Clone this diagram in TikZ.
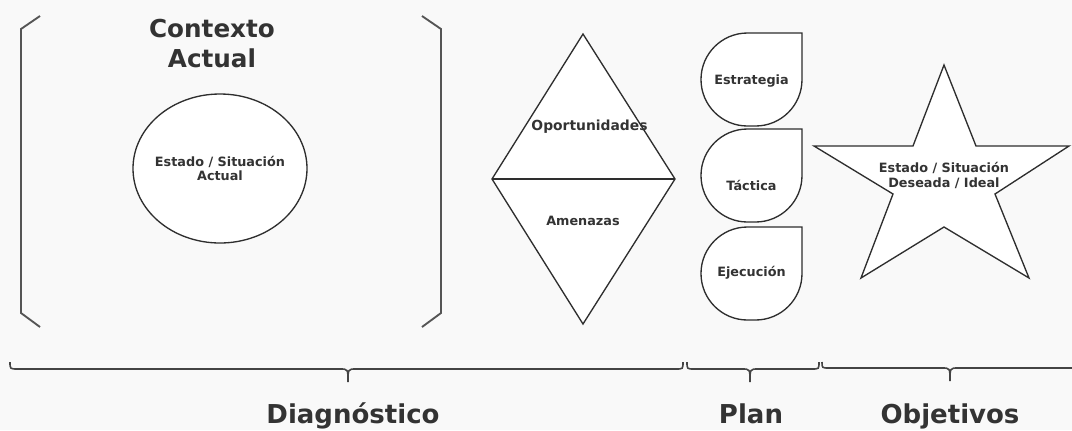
\documentclass[tikz,border=0pt]{standalone}
\usepackage{fontspec}
\setmainfont{DejaVu Sans}
\usetikzlibrary{shapes.geometric}
\definecolor{ink}{HTML}{333333}
\definecolor{edge}{HTML}{2E2E2E}
\definecolor{brk}{HTML}{555555}
\definecolor{brc}{HTML}{444444}
\definecolor{bg}{HTML}{F9F9F9}
\tikzset{
  shapeline/.style={draw=edge, line width=1pt, fill=white, line join=miter},
  bracketline/.style={draw=brk, line width=1.4pt},
  braceline/.style={draw=brc, line width=1.2pt},
  smalltxt/.style={text=ink, inner sep=0pt, align=center, font=\bfseries\fontsize{9.6pt}{10.5pt}\selectfont},
  titletxt/.style={text=ink, inner sep=0pt, align=center, font=\bfseries\fontsize{18.5pt}{22.5pt}\selectfont},
  bottomtxt/.style={text=ink, inner sep=0pt, font=\bfseries\fontsize{19.5pt}{22pt}\selectfont}
}
\begin{document}
\begin{tikzpicture}[x=0.75pt, y=-0.75pt]
\fill[bg] (0,0) rectangle (1072,430);
\useasboundingbox (0,0) rectangle (1072,430);

% brackets
\draw[bracketline] (40,16) -- (21,29) -- (21,313) -- (40,327);
\draw[bracketline] (422,16) -- (441,29) -- (441,313) -- (422,327);

\node[titletxt] (ctx) at (212,43.5) {Contexto\\Actual};

% ellipse
\node[shapeline, ellipse, minimum width=130.5pt, minimum height=111.75pt, inner sep=0pt] (cur) at (220,168.5) {};
\node[smalltxt] (curtxt) at (220,168) {Estado / Situación\\Actual};

% diamond
\draw[shapeline] (583,34) -- (675,179) -- (583,324) -- (492,179) -- cycle;
\draw[shapeline] (492,179) -- (675,179);
\node[smalltxt, anchor=base, font=\bfseries\fontsize{10.4pt}{12pt}\selectfont] (opo) at (589.5,130) {Oportunidades};
\node[smalltxt, anchor=base] (ame) at (583,225) {Amenazas};

% drops
\foreach \t in {33,129,227}{
\begin{scope}[shift={(701,\t)}]
\draw[shapeline] (101,0) -- (101,46.5) .. controls (101,72.2) and (80.2,93) .. (54.5,93) -- (46.5,93) .. controls (20.8,93) and (0,72.2) .. (0,46.5) .. controls (0,20.8) and (20.8,0) .. (46.5,0) -- cycle;
\end{scope}
}
\node[smalltxt, anchor=base] (est) at (751.5,84) {Estrategia};
\node[smalltxt, anchor=base] (tac) at (751.5,190.5) {Táctica};
\node[smalltxt, anchor=base] (eje) at (751.5,276.5) {Ejecución};

% star
\draw[shapeline] (944,65) -- (976,146) -- (1069,146) -- (995,194) -- (1029,278) -- (944,227) -- (861,278) -- (893,194) -- (814,146) -- (913,146) -- cycle;
\node[smalltxt, font=\bfseries\fontsize{9.6pt}{10.8pt}\selectfont] (des) at (944,175.5) {Estado / Situación\\Deseada / Ideal};

% braces
\draw[braceline] (10,362) .. controls (10,369) .. (18,369) -- (340,369) .. controls (348,369) .. (348,382) .. controls (348,369) .. (356,369) -- (676,369) .. controls (683,369) .. (683,362);
\draw[braceline] (687,362) .. controls (687,369) .. (694,369) -- (742,369) .. controls (750,369) .. (750,382) .. controls (750,369) .. (758,369) -- (812,369) .. controls (819,369) .. (819,362);
\draw[braceline] (822,362) .. controls (822,368) .. (829,368) -- (942,368) .. controls (950,368) .. (950,381) .. controls (950,368) .. (958,368) -- (1072,368);

\node[bottomtxt, anchor=base] (dia) at (353,423) {Diagnóstico};
\node[bottomtxt, anchor=base] (pla) at (751,423.5) {Plan};
\node[bottomtxt, anchor=base] (obj) at (950,423) {Objetivos};
\end{tikzpicture}
\end{document}
